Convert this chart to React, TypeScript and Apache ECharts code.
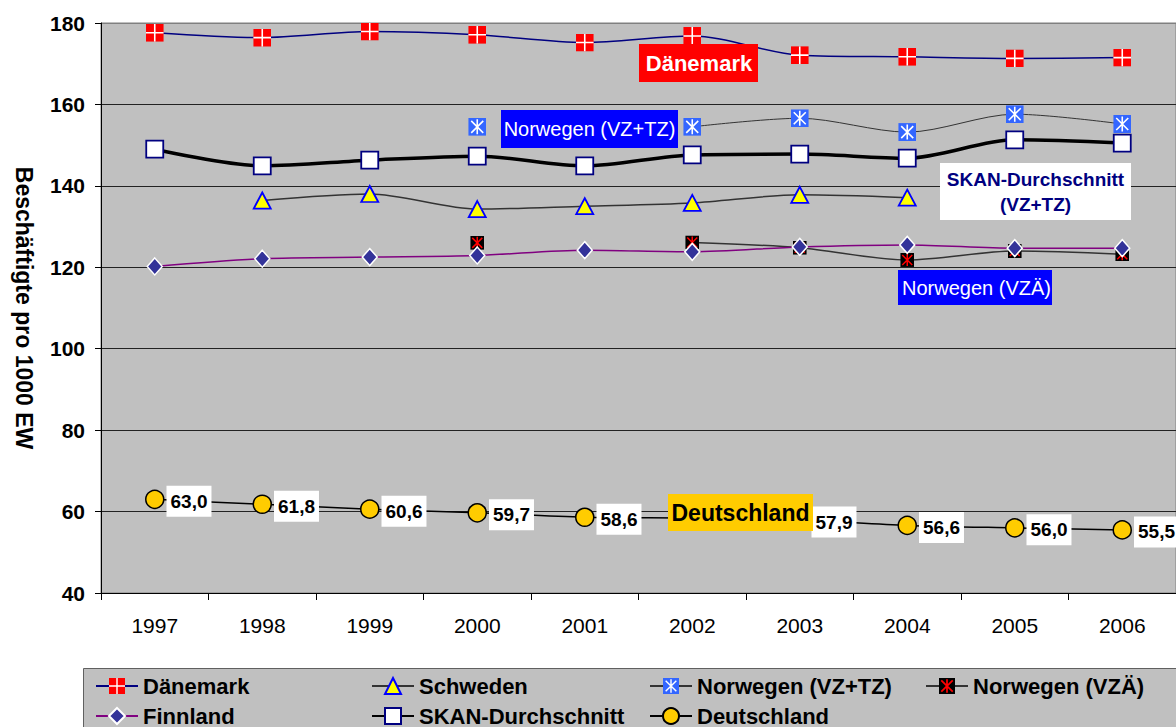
import React, { useEffect, useRef } from "react";
import * as echarts from "echarts";

const years = ["1997", "1998", "1999", "2000", "2001", "2002", "2003", "2004", "2005", "2006"];
const daenemark = [177.6, 176.4, 177.9, 177.1, 175.2, 176.8, 172.1, 171.7, 171.3, 171.5];
const schweden = [null, 136.4, 138.0, 134.3, 135.0, 135.8, 137.8, 137.1, null, null];
const norwegenVZTZ = [null, null, null, 154.5, null, 154.5, 156.6, 153.2, 157.6, 155.2];
const norwegenVZAE = [null, null, null, 126.0, null, 126.1, 124.8, 121.8, 124.0, 123.2];
const finnland = [120.2, 122.1, 122.5, 122.9, 124.2, 123.8, 125.0, 125.5, 124.7, 124.7];
const skan = [149.0, 144.9, 146.3, 147.3, 144.9, 147.6, 147.8, 146.8, 151.3, 150.5];
const deutschland = [63.0, 61.8, 60.6, 59.7, 58.6, 58.4, 57.9, 56.6, 56.0, 55.5];
// value labels hidden behind the "Deutschland" caption
const deutschlandHiddenLabel = ["2002"];

const FONT = "'Liberation Sans', Arial, sans-serif";

const svgUri = (s: string) =>
  "image://data:image/svg+xml;charset=utf-8," + encodeURIComponent(s);

const symDK = svgUri(
  '<svg xmlns="http://www.w3.org/2000/svg" width="18" height="18" viewBox="0 0 18 18"><rect width="18" height="18" fill="#FF0000"/><path d="M9 0V18M0 9H18" stroke="#FFFFFF" stroke-width="1.6"/></svg>'
);
const symNO1 = svgUri(
  '<svg xmlns="http://www.w3.org/2000/svg" width="18" height="18" viewBox="0 0 18 18"><rect width="18" height="18" fill="#3366FF"/><path d="M9 1.5V16.5M3 3L15 15M15 3L3 15" stroke="#FFFFFF" stroke-width="1.6"/></svg>'
);
const symNO2 = svgUri(
  '<svg xmlns="http://www.w3.org/2000/svg" width="14" height="14" viewBox="0 0 14 14"><rect width="14" height="14" fill="#000000"/><path d="M7 1V13M2 2L12 12M12 2L2 12" stroke="#FF0000" stroke-width="1.5"/></svg>'
);

export default function App() {
  const ref = useRef<HTMLDivElement>(null);
  useEffect(() => {
    if (!ref.current) return;
    const chart = echarts.init(ref.current, null, { renderer: "svg" });

    const legendBase = {
      orient: "horizontal",
      padding: 0,
      itemWidth: 42,
      itemHeight: 20,
      itemGap: 0,
      selectedMode: false,
      textStyle: { fontSize: 22, fontWeight: "bold", color: "#000", fontFamily: FONT },
    };
    const legendPos: [string, number, number][] = [
      ["Dänemark", 95, 675],
      ["Schweden", 371, 675],
      ["Norwegen (VZ+TZ)", 649, 675],
      ["Norwegen (VZÄ)", 925, 675],
      ["Finnland", 95, 705],
      ["SKAN-Durchschnitt", 371, 705],
      ["Deutschland", 649, 705],
    ];

    const smooth = 0.3;

    const deData = deutschland.map((v, i) =>
      deutschlandHiddenLabel.includes(years[i]) ? { value: v, label: { show: false } } : v
    );

    const option: any = {
      animation: false,
      textStyle: { fontFamily: FONT },
      grid: {
        left: 101,
        top: 23,
        width: 1080,
        height: 570,
        show: true,
        backgroundColor: "#C0C0C0",
        borderColor: "#808080",
        borderWidth: 1,
      },
      xAxis: {
        type: "category",
        data: years,
        boundaryGap: true,
        axisLine: { show: true, lineStyle: { color: "#000", width: 1 } },
        axisTick: { show: true, length: 7, lineStyle: { color: "#000" } },
        axisLabel: { fontSize: 21, color: "#000", margin: 22, fontFamily: FONT },
        splitLine: { show: false },
      },
      yAxis: {
        type: "value",
        min: 40,
        max: 180,
        interval: 20,
        name: "Beschäftigte pro 1000 EW",
        nameLocation: "middle",
        nameRotate: -90,
        nameGap: 66,
        nameTextStyle: { fontSize: 23, fontWeight: "bold", color: "#000", fontFamily: FONT },
        axisLine: { show: true, lineStyle: { color: "#000", width: 1 } },
        axisTick: { show: true, length: 6, lineStyle: { color: "#000" } },
        axisLabel: { fontSize: 21, fontWeight: "bold", color: "#000", margin: 16, fontFamily: FONT },
        splitLine: {
          show: true,
          lineStyle: {
            color: ["#000", "#222", "#222", "#222", "#222", "#222", "#222", "#808080"],
            width: 1,
          },
        },
      },
      legend: legendPos.map(([name, left, top]) => ({
        ...legendBase,
        data: [name],
        left,
        top,
      })),
      series: [
        {
          name: "Dänemark",
          type: "line",
          data: daenemark,
          smooth,
          symbol: symDK,
          symbolSize: 18,
          lineStyle: { color: "#000080", width: 1.5 },
          itemStyle: { color: "#FF0000" },
        },
        {
          name: "Schweden",
          type: "line",
          data: schweden,
          smooth,
          symbol: "triangle",
          symbolSize: [17, 16],
          lineStyle: { color: "#333333", width: 1.5 },
          itemStyle: { color: "#FFFF00", borderColor: "#0000FF", borderWidth: 1.8 },
        },
        {
          name: "Norwegen (VZ+TZ)",
          type: "line",
          data: norwegenVZTZ,
          smooth,
          connectNulls: false,
          symbol: symNO1,
          symbolSize: 18,
          lineStyle: { color: "#333333", width: 1 },
          itemStyle: { color: "#3366FF" },
        },
        {
          name: "Norwegen (VZÄ)",
          type: "line",
          data: norwegenVZAE,
          smooth,
          connectNulls: false,
          symbol: symNO2,
          symbolSize: 14,
          lineStyle: { color: "#333333", width: 1.5 },
          itemStyle: { color: "#000000" },
        },
        {
          name: "Finnland",
          type: "line",
          data: finnland,
          smooth,
          symbol: "diamond",
          symbolSize: [15, 17],
          lineStyle: { color: "#800080", width: 1.5 },
          itemStyle: { color: "#333399", borderColor: "#FFFFFF", borderWidth: 1.5 },
        },
        {
          name: "SKAN-Durchschnitt",
          type: "line",
          data: skan,
          smooth,
          symbol: "rect",
          symbolSize: 17,
          lineStyle: { color: "#000000", width: 3.5 },
          itemStyle: { color: "#FFFFFF", borderColor: "#000080", borderWidth: 1.8 },
        },
        {
          name: "Deutschland",
          type: "line",
          data: deData,
          smooth,
          symbol: "circle",
          symbolSize: 18,
          lineStyle: { color: "#000000", width: 1.5 },
          itemStyle: { color: "#FFCC00", borderColor: "#000000", borderWidth: 1.5 },
          label: {
            show: true,
            position: "right",
            distance: 2,
            offset: [0, 2],
            backgroundColor: "#FFFFFF",
            padding: [6, 4, 6, 4],
            color: "#000",
            fontSize: 19,
            fontWeight: "bold",
            fontFamily: FONT,
            formatter: (p: any) => Number(p.value).toFixed(1).replace(".", ","),
          },
        },
      ],
      graphic: [
        {
          type: "rect",
          z: 0,
          shape: { x: 83.5, y: 668.5, width: 1200, height: 100 },
          style: { fill: "#C0C0C0", stroke: "#606060", lineWidth: 1 },
        },
        {
          type: "rect",
          z: 100,
          shape: { x: 639, y: 44, width: 119, height: 38 },
          style: { fill: "#FF0000" },
        },
        {
          type: "text",
          z: 101,
          x: 699,
          y: 63.5,
          style: {
            text: "Dänemark",
            fill: "#FFFFFF",
            font: `bold 22px ${FONT}`,
            textAlign: "center",
            textVerticalAlign: "middle",
          },
        },
        {
          type: "rect",
          z: 100,
          shape: { x: 501, y: 110, width: 177, height: 38 },
          style: { fill: "#0000FF" },
        },
        {
          type: "text",
          z: 101,
          x: 589.5,
          y: 129,
          style: {
            text: "Norwegen (VZ+TZ)",
            fill: "#FFFFFF",
            font: `20px ${FONT}`,
            textAlign: "center",
            textVerticalAlign: "middle",
          },
        },
        {
          type: "rect",
          z: 100,
          shape: { x: 940, y: 163, width: 191, height: 57 },
          style: { fill: "#FFFFFF" },
        },
        {
          type: "text",
          z: 101,
          x: 1035.5,
          y: 179,
          style: {
            text: "SKAN-Durchschnitt",
            fill: "#000080",
            font: `bold 19px ${FONT}`,
            textAlign: "center",
            textVerticalAlign: "middle",
          },
        },
        {
          type: "text",
          z: 101,
          x: 1035.5,
          y: 204,
          style: {
            text: "(VZ+TZ)",
            fill: "#000080",
            font: `bold 19px ${FONT}`,
            textAlign: "center",
            textVerticalAlign: "middle",
          },
        },
        {
          type: "rect",
          z: 100,
          shape: { x: 898, y: 270, width: 154, height: 35 },
          style: { fill: "#0000FF" },
        },
        {
          type: "text",
          z: 101,
          x: 902,
          y: 287.5,
          style: {
            text: "Norwegen (VZÄ)",
            fill: "#FFFFFF",
            font: `20px ${FONT}`,
            textAlign: "left",
            textVerticalAlign: "middle",
          },
        },
        {
          type: "rect",
          z: 100,
          shape: { x: 668, y: 494, width: 145, height: 37 },
          style: { fill: "#FFCC00" },
        },
        {
          type: "text",
          z: 101,
          x: 740.5,
          y: 512.5,
          style: {
            text: "Deutschland",
            fill: "#000000",
            font: `bold 23px ${FONT}`,
            textAlign: "center",
            textVerticalAlign: "middle",
          },
        },
      ],
    };

    chart.setOption(option);
    return () => chart.dispose();
  }, []);

  return (
    <div
      ref={ref}
      style={{ position: "absolute", left: 0, top: 0, width: 1176, height: 727, background: "#FFFFFF" }}
    />
  );
}
